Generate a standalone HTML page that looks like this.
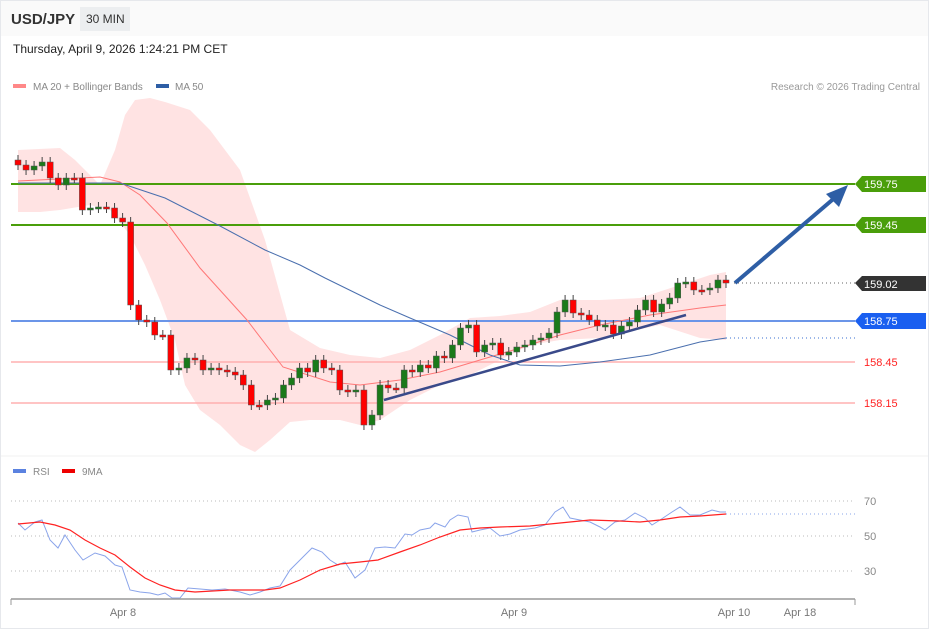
<!DOCTYPE html>
<html><head><meta charset="utf-8"><style>
body{margin:0;width:929px;height:629px;overflow:hidden;background:#fff;font-family:"Liberation Sans",sans-serif}
</style></head><body>
<svg width="929" height="629" xmlns="http://www.w3.org/2000/svg" font-family="Liberation Sans, sans-serif">
<rect x="0.5" y="0.5" width="928" height="628" fill="#fff" stroke="#e6e8ec"/>
<rect x="1" y="1" width="927" height="35" fill="#fafafa"/>
<text x="11" y="24" font-size="15" font-weight="bold" fill="#333">USD/JPY</text>
<rect x="80" y="7" width="50" height="24" fill="#eceef0"/>
<text x="86" y="23" font-size="12" fill="#333">30 MIN</text>
<text x="13" y="53" font-size="12" fill="#222">Thursday, April 9, 2026 1:24:21 PM CET</text>
<rect x="13" y="84" width="13" height="4" fill="#f88"/>
<text x="33" y="90" font-size="10" fill="#888">MA 20 + Bollinger Bands</text>
<rect x="156" y="84" width="13" height="4" fill="#2e5ea5"/>
<text x="175" y="90" font-size="10" fill="#888">MA 50</text>
<text x="920" y="90" font-size="10" fill="#999" text-anchor="end">Research © 2026 Trading Central</text>
<line x1="1" y1="456" x2="928" y2="456" stroke="#f0f0f0"/>
<polygon fill="#ffe3e3" points="18,150 60,148 75,160 100,185 115,150 125,115 135,100 150,98 165,102 190,110 210,130 240,170 265,240 290,330 320,348 350,355 380,358 410,350 440,335 470,318 500,316 530,312 560,300 600,300 640,298 680,285 710,275 726,272 726,340 700,338 660,325 600,338 560,340 530,345 500,360 470,375 440,385 410,400 380,420 360,425 340,420 310,420 290,422 270,440 255,452 240,445 220,425 200,410 185,385 175,340 160,300 145,265 130,235 110,210 90,205 60,210 40,212 18,212"/>
<line x1="11" y1="184" x2="855" y2="184" stroke="#4a9e0a" stroke-width="2"/>
<line x1="11" y1="225" x2="855" y2="225" stroke="#4a9e0a" stroke-width="2"/>
<line x1="11" y1="321" x2="855" y2="321" stroke="#6b95e8" stroke-width="2"/>
<line x1="11" y1="362" x2="855" y2="362" stroke="#ffb0b0" stroke-width="1.5"/>
<line x1="11" y1="403" x2="855" y2="403" stroke="#ffb0b0" stroke-width="1.5"/>
<line x1="734" y1="283" x2="855" y2="283" stroke="#666" stroke-dasharray="1,3"/>
<line x1="726" y1="338" x2="855" y2="338" stroke="#3a6fd0" stroke-dasharray="1,3"/>
<polyline fill="none" stroke="#f77" stroke-width="1" points="18,181 100,177 120,182 140,195 167,223 200,268 247,320 283,367 330,382 360,385 400,380 440,372 480,360 520,348 560,335 600,325 650,315 700,308 726,305"/>
<polyline fill="none" stroke="#4a6fae" stroke-width="1" points="18,183 120,183 165,198 220,226 265,250 300,265 325,278 380,305 410,318 450,335 490,355 520,365 560,366 600,362 650,355 700,342 726,338"/>
<g id="c"></g>
<line x1="384" y1="400" x2="686" y2="315" stroke="#3a4a8a" stroke-width="2.5"/>
<line x1="735" y1="283" x2="838" y2="195" stroke="#2e5ea5" stroke-width="4"/>
<polygon points="848,185 826,194 839,207" fill="#2e5ea5"/>
<g font-size="11">
<polygon points="855,184 862,176 926,176 926,192 862,192" fill="#4a9e0a"/><text x="864" y="188" fill="#fff">159.75</text>
<polygon points="855,225 862,217 926,217 926,233 862,233" fill="#4a9e0a"/><text x="864" y="229" fill="#fff">159.45</text>
<polygon points="855,283 862,276 926,276 926,291 862,291" fill="#333"/><text x="864" y="288" fill="#fff">159.02</text>
<polygon points="855,321 862,313 926,313 926,329 862,329" fill="#1a5ff0"/><text x="864" y="325" fill="#fff">158.75</text>
<text x="864" y="366" fill="#f22">158.45</text>
<text x="864" y="407" fill="#f22">158.15</text>
</g>
<rect x="13" y="469" width="13" height="4" fill="#5b82e0"/>
<text x="33" y="475" font-size="10" fill="#888">RSI</text>
<rect x="62" y="469" width="13" height="4" fill="#e00"/>
<text x="82" y="475" font-size="10" fill="#888">9MA</text>
<g stroke="#bbb" stroke-dasharray="1,3"><line x1="11" y1="501" x2="855" y2="501"/><line x1="11" y1="536" x2="855" y2="536"/><line x1="11" y1="571" x2="855" y2="571"/></g>
<g font-size="11" fill="#888"><text x="864" y="505">70</text><text x="864" y="540">50</text><text x="864" y="575">30</text></g>
<polyline fill="none" stroke="#8aa4ea" stroke-width="1" points="18,523 25,530 35,522 42,520 50,540 58,548 65,535 75,550 83,560 95,553 105,556 115,565 122,567 130,590 140,592 150,593 158,595 165,593 172,598 180,598 188,588 200,589 212,590 225,589 240,592 250,595 260,592 270,588 280,586 290,570 300,560 312,548 322,552 330,560 338,565 345,562 355,578 365,570 375,548 385,547 395,548 405,534 412,535 420,530 430,528 435,523 445,527 450,520 458,515 468,517 472,532 480,530 490,528 500,536 510,534 520,530 535,528 545,525 555,512 563,507 570,518 580,520 590,522 600,527 605,530 615,522 625,520 635,513 645,518 652,525 660,520 672,512 680,507 690,515 700,515 712,510 720,512 726,512"/>
<polyline fill="none" stroke="#f22" stroke-width="1.2" points="18,524 40,522 55,525 70,530 85,540 100,548 115,555 130,567 145,578 160,585 175,590 195,592 230,590 265,590 280,588 300,580 320,570 340,564 360,562 378,560 400,552 420,545 440,537 460,530 480,528 500,527 530,526 560,523 590,520 620,521 640,522 660,520 680,517 700,516 726,514"/>
<line x1="726" y1="514" x2="855" y2="514" stroke="#8aa4ea" stroke-dasharray="1,3"/>
<line x1="11" y1="599" x2="855" y2="599" stroke="#999" stroke-width="1.5"/>
<line x1="11" y1="599" x2="11" y2="605" stroke="#999"/><line x1="855" y1="599" x2="855" y2="605" stroke="#999"/>
<g font-size="11" fill="#777" text-anchor="middle"><text x="123" y="616">Apr 8</text><text x="514" y="616">Apr 9</text><text x="734" y="616">Apr 10</text><text x="800" y="616">Apr 18</text></g>
</svg>
<script>
var cl=[165,170,166,162,178,185,178,178,210,208,207,208,218,222,305,320,322,335,335,370,368,358,360,370,368,370,372,375,385,405,405,400,398,385,378,368,372,360,368,370,390,392,390,425,415,385,388,388,370,372,365,368,356,358,345,328,325,352,345,343,355,352,347,345,340,338,333,312,300,313,315,320,326,325,334,326,322,310,300,312,304,298,283,282,290,290,288,280,283];
var g=document.getElementById('c'),s='',o=160,n=cl.length;
for(var i=0;i<n;i++){var x=18+i*(708/(n-1)),c=cl[i],t=Math.min(o,c),b=Math.max(o,c),h=Math.max(b-t,2),up=c<o;
s+='<line x1="'+x+'" y1="'+(t-5)+'" x2="'+x+'" y2="'+(b+5)+'" stroke="#444"/>';
s+='<rect x="'+(x-3)+'" y="'+t+'" width="6" height="'+h+'" fill="'+(up?'#1a7a1a':'#f00')+'" stroke="#555" stroke-width="0.5"/>';o=c;}
g.innerHTML=s;
</script>
</body></html>
